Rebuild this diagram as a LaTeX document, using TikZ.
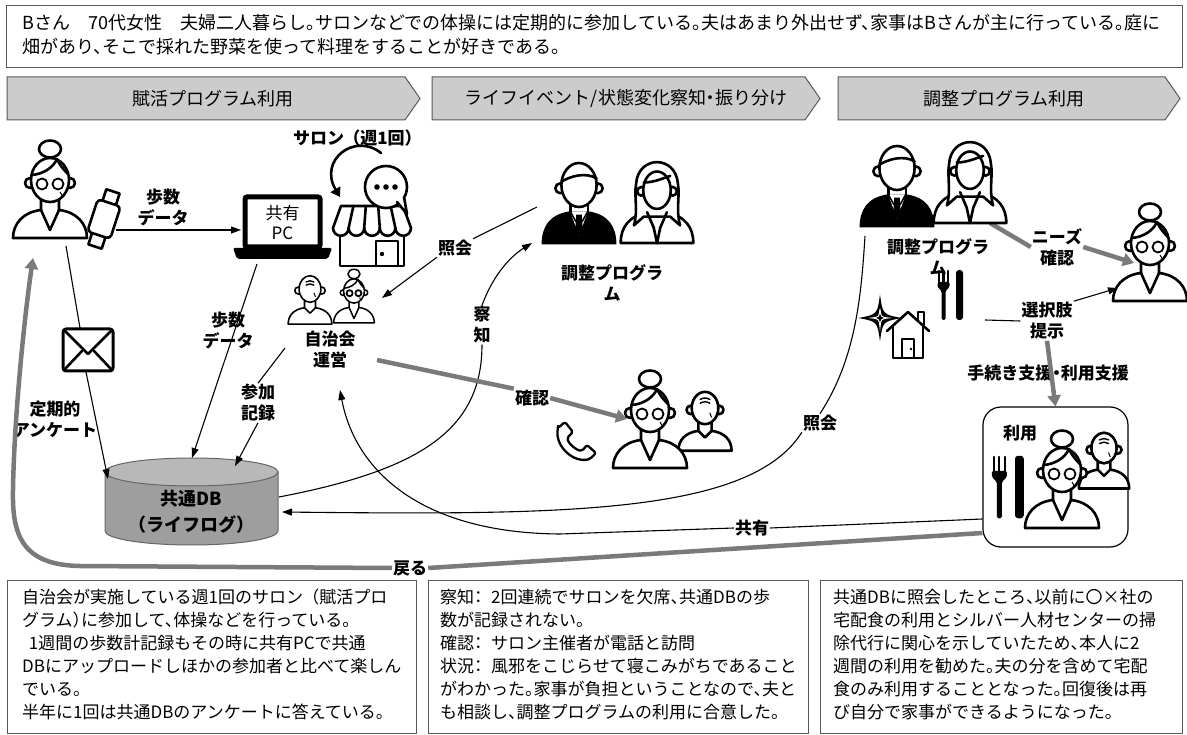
\documentclass[tikz,border=0pt]{standalone}
\usepackage{fontspec}
\setmainfont{Noto Sans CJK JP}[RawFeature=+halt]
\usetikzlibrary{arrows.meta,positioning}

% full-width brackets and colon keep their room
\newcommand\jlp{\hspace{.45em}（}
\newcommand\jrp{）\hspace{.45em}}
\newcommand\jcol{：\hspace{.5em}}

\tikzset{
  icon/.style={line width=2.6pt,line join=round,line cap=round},
  link/.style={line width=1.1pt},
  arr/.style={link,-{Triangle[length=10pt,width=7pt]}},
  gline/.style={line width=4.5pt,draw=black!52},
  garr/.style={gline,-{Triangle[length=11pt,width=13pt]}},
  lbl/.style={font=\bfseries\fontsize{17}{21}\selectfont,align=center,inner sep=1pt},
  note/.style={font=\fontsize{17}{23}\selectfont,align=left,anchor=north west,inner sep=0pt},
  head/.style={font=\fontsize{18}{20}\selectfont},
  banner/.style={fill=black!20,draw=black!65,line width=1pt},
  panel/.style={draw=black!65,line width=1pt},
  % line-art people, origin = head centre, y pointing down
  grandma/.pic={
    \draw[icon,fill=white] (-9,20) -- (-9,30) .. controls (-27,32) and (-37,44) .. (-37,58) -- (37,58) .. controls (37,44) and (27,32) .. (9,30) -- (9,20);
    \draw[icon] (-9,30) -- (0,50) -- (9,30);
    \draw[icon,fill=white] (0,-31) ellipse[x radius=11,y radius=8.5];
    \draw[icon,fill=white] (-20,3) circle (5) (20,3) circle (5);
    \draw[icon,fill=white] (0,0) ellipse[x radius=19,y radius=22];
    \draw[icon] (-18,-5) .. controls (-7,-6) and (3,-12) .. (7,-21) .. controls (10,-14) and (15,-9) .. (18,-6);
    \draw[icon,line width=1.8pt] (-8,4) circle (5.5) (8,4) circle (5.5);
    \draw[line width=1pt] (10,12) -- (13,17);
  },
  oldman/.pic={
    \draw[icon,fill=white] (-7,15) -- (-7,24) .. controls (-21,26) and (-28,34) .. (-28,45) -- (28,45) .. controls (28,34) and (21,26) .. (7,24) -- (7,15);
    \draw[icon] (-7,24) -- (0,31) -- (7,24);
    \draw[icon,fill=white] (-15,2) circle (4.5) (15,2) circle (4.5);
    \draw[icon,fill=white] (0,0) ellipse[x radius=14,y radius=17];
    \draw[icon,line width=1.4pt] (-5,-9) .. controls (-2,-11) and (2,-11) .. (5,-9) (-5,-5) .. controls (-2,-7) and (2,-7) .. (5,-5);
    \draw[line width=1pt] (5,5) -- (7,10);
  },
  suitman/.pic={
    \fill (-9,24) .. controls (-27,27) and (-34,38) .. (-34,54) -- (34,54) .. controls (34,38) and (27,27) .. (9,24) -- cycle;
    \fill[white] (-8,24) -- (0,46) -- (8,24) -- cycle;
    \fill (-2.5,27) -- (2.5,27) -- (3.5,41) -- (0,46) -- (-3.5,41) -- cycle;
    \draw[icon,line width=1.6pt] (-8,24) -- (-3,33) (8,24) -- (3,33);
    \draw[icon] (-8,16) -- (-8,24) (8,16) -- (8,24);
    \draw[icon,fill=white] (-17,3) circle (4.5) (17,3) circle (4.5);
    \draw[icon,fill=white] (0,0) ellipse[x radius=16,y radius=20];
    \draw[icon] (-16,-3) .. controls (-8,-8) and (6,-12) .. (16,-6);
  },
  lady/.pic={
    \draw[icon,fill=white] (-9,22) .. controls (-26,26) and (-33,36) .. (-33,50) -- (33,50) .. controls (33,36) and (26,26) .. (9,22);
    \draw[icon,fill=white] (-21,34) .. controls (-17,20) and (-21,8) .. (-19,-4) .. controls (-17,-30) and (17,-30) .. (19,-4) .. controls (21,8) and (17,20) .. (21,34) -- (12,26) -- (-12,26) -- cycle;
    \draw[icon] (-9,22) -- (-3,36) -- (0,50) (9,22) -- (3,36) -- (0,50);
    \draw[icon,fill=white] (-14,3) circle (4) (14,3) circle (4);
    \draw[icon,fill=white] (0,2) ellipse[x radius=12.5,y radius=17];
    \draw[icon] (-12,-5) .. controls (-3,-5) and (6,-9) .. (12,-11);
  },
  % small objects
  watch/.pic={
    \draw[icon,fill=white] (-7,-29) rectangle (7,29);
    \draw[icon,fill=white,rounded corners=4pt] (-12,-17) rectangle (12,17);
  },
  shop/.pic={
    \draw[icon] (-32,0) -- (-32,34) -- (32,34) -- (32,0);
    \draw[icon] (4,34) -- (4,9) -- (26,9) -- (26,34);
    \fill (10,22) circle (2.2);
    \draw[icon,fill=white] (-31,-26) -- (31,-26) -- (39,-4)
      \foreach \k in {1,...,5} { arc[start angle=0,end angle=180,radius=7.8] } -- cycle;
    \foreach \k in {1,...,4} \draw[icon] (-31+12.4*\k,-26) -- (-39+15.6*\k,-4);
  },
  envelope/.pic={
    \draw[icon,line width=3pt,rounded corners=3pt] (-25,-21) rectangle (25,21);
    \draw[icon] (-23,-19) -- (0,4) -- (23,-19) (-23,19) -- (-6,1) (23,19) -- (6,1);
  },
  phone/.pic={
    \draw[icon,line width=2.3pt,rounded corners=2pt] (-17,-15) -- (-10,-21) -- (-2,-11) -- (-8,-5) .. controls (-6,1) and (1,7) .. (7,8) -- (12,2) -- (21,10) -- (15,16) .. controls (-2,20) and (-20,3) .. cycle;
  },
  forkknife/.pic={
    \draw[line width=2.2pt,line cap=round] (-13,-24) -- (-13,-12) (-8.5,-24) -- (-8.5,-12) (-4,-24) -- (-4,-12);
    \fill[rounded corners=1.5pt] (-14.5,-13) -- (-2.5,-13) -- (-2.5,-8) -- (-6.5,-4) -- (-6.5,25) -- (-10.5,25) -- (-10.5,-4) -- (-14.5,-8) -- cycle;
    \fill[rounded corners=3pt] (4,-25) rectangle (11,25);
  },
  sparkle/.pic={
    \fill (0,-26) .. controls (3,-4) .. (24,0) .. controls (3,4) .. (0,26) .. controls (-3,4) .. (-24,0) .. controls (-3,-4) .. (0,-26) -- cycle;
    \draw[white,line width=1pt] (0,-10) .. controls (1,-1) .. (9,0) .. controls (1,1) .. (0,10) .. controls (-1,1) .. (-9,0) .. controls (-1,-1) .. cycle;
  },
  house/.pic={
    \draw[icon] (10,8) -- (10,0) -- (16,0) -- (16,13);
    \draw[icon] (-21,19) -- (0,0) -- (21,19);
    \draw[icon] (-15,14) -- (-15,46) -- (15,46) -- (15,14);
    \draw[icon,line width=2pt] (-6,46) -- (-6,27) -- (6,27) -- (6,46);
    \fill (3,37) circle (1.3);
  },
}

\begin{document}
\begin{tikzpicture}[x=1pt,y=-1pt]
\useasboundingbox (0,0) rectangle (1187,735);

% profile of Mrs B
\node[panel,anchor=north west,minimum width=1176,minimum height=62] (intro) at (6,5) {};
\node[note,anchor=west,font=\fontsize{18}{24}\selectfont] (introtext) at (22,35)
  {Bさん　70代女性　夫婦二人暮らし。サロンなどでの体操には定期的に参加している。夫はあまり外出せず、家事はBさんが主に行っている。庭に\\
   畑があり、そこで採れた野菜を使って料理をすることが好きである。};

% phase banners
\draw[banner] (7,77) -- (405,77) -- (420,98.5) -- (405,120) -- (7,120) -- cycle;
\draw[banner] (432,77) -- (805,77) -- (820,98.5) -- (805,120) -- (432,120) -- cycle;
\draw[banner] (838,77) -- (1165,77) -- (1180,98.5) -- (1165,120) -- (838,120) -- cycle;
\node[head] (ph1) at (213,98.5) {賦活プログラム利用};
\node[head] (ph2) at (626,98.5) {ライフイベント/状態変化察知・振り分け};
\node[head] (ph3) at (1004,98.5) {調整プログラム利用};

% explanations
\node[panel,anchor=north west,minimum width=409,minimum height=153] (box1) at (7,580) {};
\node[panel,anchor=north west,minimum width=380,minimum height=153] (box2) at (428,580) {};
\node[panel,anchor=north west,minimum width=362,minimum height=153] (box3) at (820,580) {};
\node[note] (txt1) at (22,589) {自治会が実施している週1回のサロン\jlp 賦活プロ\\
  グラム）に参加して、体操などを行っている。\\
  \hspace*{0.4em}1週間の歩数計記録もその時に共有PCで共通\\
  DBにアップロードしほかの参加者と比べて楽しん\\
  でいる。\\
  半年に1回は共通DBのアンケートに答えている。};
\node[note] (txt2) at (440,589) {察知\jcol 2回連続でサロンを欠席、共通DBの歩\\
  数が記録されない。\\
  確認\jcol サロン主催者が電話と訪問\\
  状況\jcol 風邪をこじらせて寝こみがちであること\\
  がわかった。家事が負担ということなので、夫と\\
  も相談し、調整プログラムの利用に合意した。};
\node[note] (txt3) at (833,589) {共通DBに照会したところ、以前に〇×社の\\
  宅配食の利用とシルバー人材センターの掃\\
  除代行に関心を示していたため、本人に2\\
  週間の利用を勧めた。夫の分を含めて宅配\\
  食のみ利用することとなった。回復後は再\\
  び自分で家事ができるようになった。};

% shared lifelog database
\coordinate (db) at (191.5,472);
\filldraw[fill=black!38,draw=black!60,line width=1pt] (105,472) -- (105,531) arc[start angle=180,end angle=0,x radius=86.5,y radius=14] -- (278,472) -- cycle;
\filldraw[fill=black!28,draw=black!60,line width=1pt] (db) ellipse[x radius=86.5,y radius=14];
\node[lbl,font=\bfseries\fontsize{18}{26}\selectfont] (dbtext) at (191.5,512) {共通DB\\（ライフログ）};

% labels on the links
\node[lbl] (steps1) at (163,207) {歩数\\データ};
\node[lbl] (steps2) at (228,330) {歩数\\データ};
\node[lbl] (salon) at (357,138) {サロン\jlp 週1回\jrp};
\node[lbl] (jichi) at (330,350) {自治会\\運営};
\node[lbl] (attend) at (258,403) {参加\\記録};
\node[lbl] (survey) at (55,419) {定期的\\アンケート};
\node[lbl] (query1) at (455,248) {照会};
\node[lbl] (adj1) at (612,283) {調整プログラ\\ム};
\node[lbl] (detect) at (482,325) {察\\知};
\node[lbl] (check1) at (532,398) {確認};
\node[lbl] (query2) at (820,423) {照会};
\node[lbl] (share) at (752,528) {共有};
\node[lbl] (back) at (410,568) {戻る};
\node[lbl] (adj2) at (938,257) {調整プログラ\\ム};
\node[lbl] (needs) at (1057,247) {ニーズ\\確認};
\node[lbl] (offer) at (1047,321) {選択肢\\提示};
\node[lbl] (support) at (1048,373) {手続き支援・利用支援};

% service in use
\node[draw,line width=1.2pt,rounded corners=18pt,minimum width=145,minimum height=140] (usebox) at (1055.5,477) {};
\node[lbl] (use) at (1020,433) {利用};

% end points of the links
\coordinate (wrist) at (116,230);
\coordinate (pcin) at (241,230);
\coordinate (pcout) at (257,264);
\coordinate (dbtop) at (192,458);
\coordinate (dbtop2) at (235,466);
\coordinate (mrsBfoot) at (66,246);
\coordinate (envtop) at (80,328);
\coordinate (envbot) at (86,372);
\coordinate (dbleft) at (108,479);
\coordinate (dbright) at (279,497);
\coordinate (dbin) at (282,512);
\coordinate (jichiin) at (340,390);
\coordinate (jichiout) at (377,360);
\coordinate (jichitop) at (382,298);
\coordinate (attendtop) at (285,348);
\coordinate (teamC) at (537,207);
\coordinate (teamCin) at (532,243);
\coordinate (coupleC) at (627,419);
\coordinate (teamR) at (865,236);
\coordinate (teamRout) at (990,223);
\coordinate (mrsBR) at (1134,263);
\coordinate (mrsBR2) at (1118,288);
\coordinate (menu) at (985,320);
\coordinate (mrsBback) at (33,258);

% links
\draw[arr] (wrist) -- (pcin);
\draw[arr] (pcout) -- (dbtop);
\draw[link] (attendtop) -- (attend.north);
\draw[arr] (attend.south) -- (dbtop2);
\draw[link] (mrsBfoot) -- (envtop);
\draw[arr] (envbot) -- (dbleft);
\draw[link] (teamC) -- (query1.north east);
\draw[arr] (query1.south west) -- (jichitop);
\draw[link] (dbright) .. controls (420,470) and (482,430) .. (detect.south);
\draw[arr] (detect.north) .. controls (492,278) and (508,258) .. (teamCin);
\draw[link] (teamR) .. controls (861,300) and (855,360) .. (query2.north);
\draw[arr] (query2.south west) .. controls (750,515) and (560,515) .. (dbin);
\draw[link] (usebox.west |- 0,519) -- (share.east);
\draw[arr] (share.west) -- (560,534) .. controls (420,533) and (355,470) .. (jichiin);
\draw[link] (menu) -- (offer.west);
\draw[arr] (offer.north east) -- (mrsBR2);
\draw[gline] (jichiout) -- (check1.north west);
\draw[garr] (check1.east) -- (coupleC);
\draw[gline] (teamRout) -- (needs.west);
\draw[garr] (needs.east) -- (mrsBR);
\draw[garr] (offer.south) -- (usebox.north);
\draw[gline] (usebox.west |- 0,533) -- (back.east);
\draw[garr] (back.west) -- (80,566) .. controls (22,565) and (12,535) .. (13,490) .. controls (14,420) and (24,320) .. (mrsBback);

% Mrs B with her step counter
\pic at (50,180) {grandma};
\pic[rotate=-18] at (104,219) {watch};
% shared PC
\draw[line width=5pt,rounded corners=2pt] (245,197) rectangle (320,247);
\fill[rounded corners=2pt] (233,248) -- (332,248) -- (328,259) -- (237,259) -- cycle;
\node[head,align=center,font=\fontsize{17}{20}\selectfont] (pc) at (282.5,222) {共有\\PC};
% weekly salon
\draw[icon,-{Triangle[length=9pt,width=11pt]}] (381,153) .. controls (355,132) and (318,160) .. (340,197);
\pic at (372,232) {shop};
\draw[icon,fill=white] (386,187) circle (21);
\fill[white] (396,200) -- (407,214) -- (405,196) -- cycle;
\draw[icon] (397,202) -- (407,214) -- (404,197);
\foreach \dx in {-9,0,9} \fill (386+\dx,187) circle (2.8);
% residents' association
\pic[scale=.78,icon/.style={line width=1.6pt,line join=round,line cap=round}] at (310,289) {oldman};
\pic[scale=.55,icon/.style={line width=1.5pt,line join=round,line cap=round}] at (354,291) {grandma};
% adjustment programme staff
\pic[scale=1.1] at (579,185) {suitman};
\pic[scale=1.1] at (657,188) {lady};
\pic[scale=1.1] at (897,168) {suitman};
\pic[scale=1.1] at (970,168) {lady};
% the couple, phone call
\pic at (575,443) {phone};
\pic[scale=.95] at (705,408) {oldman};
\pic at (650,410) {grandma};
% questionnaire
\pic at (88,350) {envelope};
% options: meals and housework
\pic at (952,295) {forkknife};
\pic[scale=.9] at (880,318) {sparkle};
\pic at (908,312) {house};
% Mrs B (right)
\pic at (1150,243) {grandma};
% meals delivered
\pic[scale=1.25] at (1010,487) {forkknife};
\pic[scale=.9] at (1104,448) {oldman};
\pic at (1062,470) {grandma};
\end{tikzpicture}
\end{document}
